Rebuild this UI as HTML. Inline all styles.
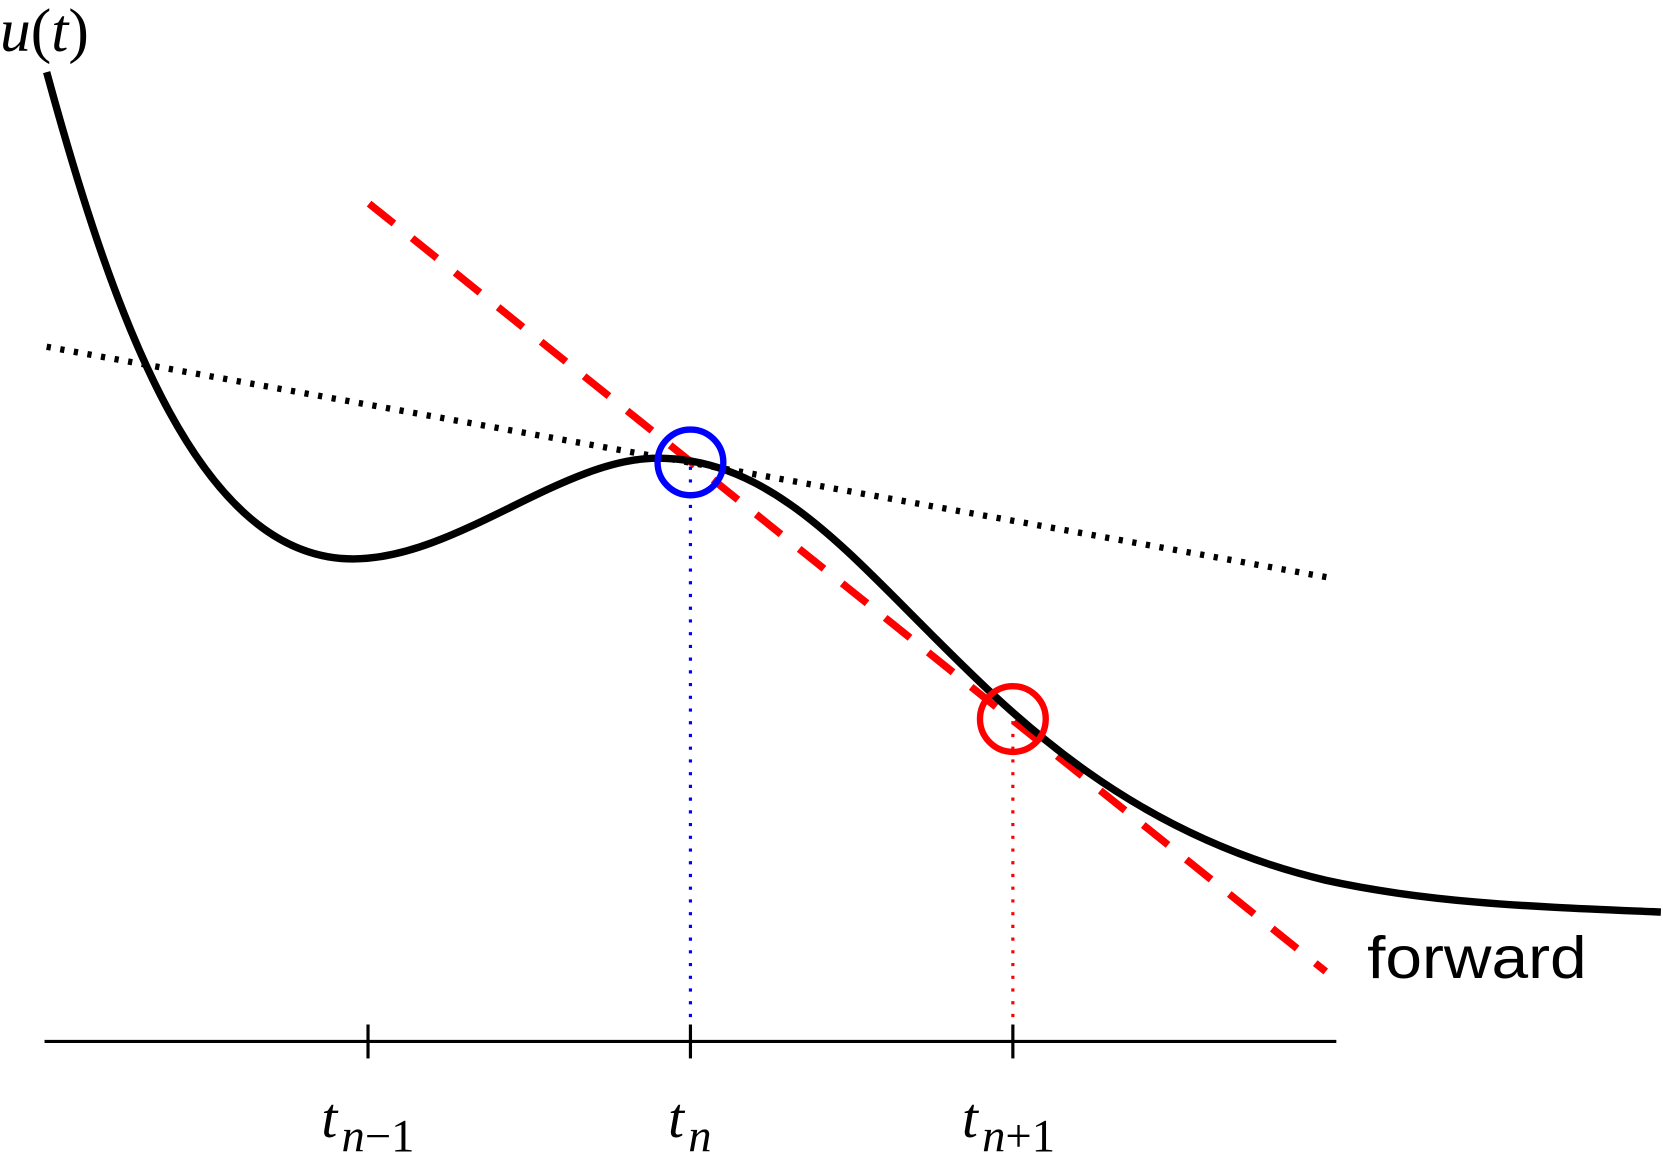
<!DOCTYPE html>
<html><head><meta charset="utf-8"><style>
html,body{margin:0;padding:0;background:#fff;}
svg{display:block;}
</style></head><body>
<svg width="1663" height="1156" viewBox="0 0 1568 1090" preserveAspectRatio="none" xmlns="http://www.w3.org/2000/svg">
<rect width="1568" height="1090" fill="#fff"/>
<line x1="42" y1="982" x2="1260" y2="982" stroke="#000" stroke-width="3"/>
<line x1="347" y1="966" x2="347" y2="998" stroke="#000" stroke-width="3"/>
<line x1="651" y1="966" x2="651" y2="998" stroke="#000" stroke-width="3"/>
<line x1="955" y1="966" x2="955" y2="998" stroke="#000" stroke-width="3"/>
<line x1="651" y1="440" x2="651" y2="966" stroke="#00f" stroke-width="3" stroke-dasharray="3,9"/>
<line x1="955" y1="680" x2="955" y2="966" stroke="#f00" stroke-width="3" stroke-dasharray="3,9"/>
<line x1="44" y1="327" x2="1255" y2="545" stroke="#000" stroke-width="6" stroke-dasharray="4,9"/>
<line x1="348" y1="192" x2="1250" y2="916" stroke="#f00" stroke-width="7" stroke-dasharray="30,22"/>
<path d="M44,68 C110,310 190,527 333,527 C430,527 530,432 620,432 C720,432 790,510 870,590 C950,670 1060,785 1250,830 C1350,852 1450,855 1566,860" fill="none" stroke="#000" stroke-width="7"/>
<circle cx="651" cy="436" r="31" fill="none" stroke="#00f" stroke-width="6"/>
<circle cx="955" cy="678" r="31" fill="none" stroke="#f00" stroke-width="6"/>
<text x="0" y="48" font-family="Liberation Serif, serif" font-size="58" font-style="italic">u<tspan font-style="normal">(</tspan>t<tspan font-style="normal">)</tspan></text>
<text x="303" y="1072" font-family="Liberation Serif, serif" font-size="54" font-style="italic">t</text>
<text x="322" y="1086" font-family="Liberation Serif, serif" font-size="44" font-style="italic">n<tspan font-style="normal">−1</tspan></text>
<text x="630" y="1072" font-family="Liberation Serif, serif" font-size="54" font-style="italic">t</text>
<text x="649" y="1086" font-family="Liberation Serif, serif" font-size="44" font-style="italic">n</text>
<text x="907" y="1072" font-family="Liberation Serif, serif" font-size="54" font-style="italic">t</text>
<text x="926" y="1086" font-family="Liberation Serif, serif" font-size="44" font-style="italic">n<tspan font-style="normal">+1</tspan></text>
<text x="1289" y="922" font-family="Liberation Sans, sans-serif" font-size="56" textLength="207" lengthAdjust="spacingAndGlyphs">forward</text>
</svg>
</body></html>
